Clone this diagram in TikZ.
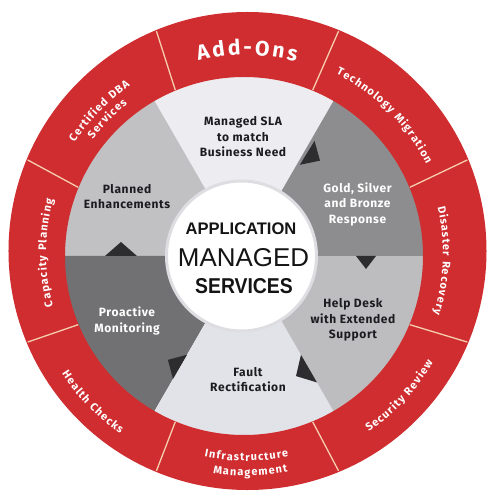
\documentclass[tikz,border=0pt]{standalone}
\usepackage{fontspec}
\setmainfont{Fira Sans}
\usepackage{graphicx}
\usetikzlibrary{decorations.text,calc}
\newfontfamily\secfont[LetterSpace=5]{Fira Sans}
\newfontfamily\ringfont{Fira Sans}
\newfontfamily\ctrfont{Liberation Sans}
\definecolor{ringred}{RGB}{207,45,48}
\definecolor{sepline}{RGB}{246,205,175}
\definecolor{slacol}{RGB}{237,237,241}
\definecolor{goldcol}{RGB}{141,141,143}
\definecolor{helpcol}{RGB}{189,189,191}
\definecolor{faultcol}{RGB}{226,227,233}
\definecolor{procol}{RGB}{113,113,115}
\definecolor{plancol}{RGB}{193,193,195}
\definecolor{tricol}{RGB}{45,45,48}
\definecolor{darktxt}{RGB}{28,28,32}
\definecolor{ctrtxt}{RGB}{20,20,20}
\definecolor{ctredge}{RGB}{222,222,226}
\newcommand\ringfmt{\ringfont\bfseries\fontsize{11}{13}\selectfont\color{white}\kern1.1pt}
\newcommand\addfmt{\ringfont\bfseries\fontsize{21}{23}\selectfont\color{white}\kern2.6pt}
% clockwise arc text (tops outward)
\newcommand\ringcw[4]{\path[shift={(2,2.5)},decorate,decoration={text along path,text align=center,text={|#3|#4}}] ({#1+40}:#2) arc[start angle={#1+40},end angle={#1-40},radius=#2];}
% counter-clockwise arc text (tops inward)
\newcommand\ringccw[4]{\path[shift={(2,2.5)},decorate,decoration={text along path,text align=center,text={|#3|#4}}] ({#1-40}:#2) arc[start angle={#1-40},end angle={#1+40},radius=#2];}
\newcommand\arrowtri[4]{\fill[tricol] ({#1}:{#2-#3/2}) -- ({#1}:{#2+#3/2}) -- ($({#1}:{#2})+({#1-90}:#4)$) -- cycle;}
\begin{document}
\begin{tikzpicture}[x=1pt,y=1pt,
  seclabel/.style={align=center,inner sep=0pt,font=\secfont\bfseries\fontsize{12}{15.5}\selectfont},
  sepstyle/.style={draw=sepline,line width=1.3pt}]
\useasboundingbox (-244,-244) rectangle (256,256);
\fill[white] (-244,-244) rectangle (256,256);
% sectors
\fill[slacol]   (0,0) -- (60:181)  arc[start angle=60,end angle=120,radius=181] -- cycle;
\fill[plancol]  (0,0) -- (120:181) arc[start angle=120,end angle=180,radius=181] -- cycle;
\fill[procol]   (0,0) -- (180:181) arc[start angle=180,end angle=240,radius=181] -- cycle;
\fill[faultcol] (0,0) -- (240:181) arc[start angle=240,end angle=300,radius=181] -- cycle;
\fill[helpcol]  (0,0) -- (300:181) arc[start angle=300,end angle=360,radius=181] -- cycle;
\fill[goldcol]  (0,0) -- (0:181)   arc[start angle=0,end angle=60,radius=181] -- cycle;
% arrow triangles
\arrowtri{58.5}{121}{28}{15}
\arrowtri{0}{122}{20}{13}
\arrowtri{-60}{130}{32}{15}
\arrowtri{-120}{128}{28}{14}
\arrowtri{180}{123}{32}{14}
% centre circle
\fill[white,draw=ctredge,line width=3pt] (-2.5,0) circle[radius=75];
% red ring
\fill[ringred,even odd rule] (3.5,5) circle[radius=239] (0,0) circle[radius=179];
\foreach \a in {22.5,67.5,112.5,157.5,202.5,247.5,292.5,337.5}
  \draw[sepstyle] (\a:179.5) -- ($(3.5,5)+(\a:238)$);
% ring labels
\ringcw{90}{198.5}{\addfmt}{Add-Ons}
\ringcw{45}{201}{\ringfmt}{Technology Migration}
\ringcw{-2}{197}{\ringfmt}{Disaster Recovery}
\ringcw{180}{200}{\ringfmt}{Capacity Planning}
\ringcw{136}{204}{\ringfmt}{Certified DBA}
\ringcw{136}{191}{\ringfmt}{Services}
\ringccw{-43}{216.5}{\ringfmt}{Security Review}
\ringccw{-136}{220}{\ringfmt}{Health Checks}
\ringccw{-90}{207.5}{\ringfmt}{Infrastructure}
\ringccw{-89}{222.5}{\ringfmt}{Management}
% sector labels
\node[seclabel,text=darktxt] (sla) at (-1,119) {Managed SLA\\to match\\Business Need};
\node[seclabel,text=white] (gold) at (113.5,52) {Gold, Silver\\and Bronze\\Response};
\node[seclabel,text=darktxt] (help) at (109,-64) {Help Desk\\with Extended\\Support};
\node[seclabel,text=darktxt] (fault) at (4,-123.5) {Fault\\Rectification};
\node[seclabel,text=white] (proactive) at (-117,-65) {Proactive\\Monitoring};
\node[seclabel,text=darktxt] (planned) at (-117,59.5) {Planned\\Enhancements};
% centre text
\node[inner sep=0pt,text=ctrtxt] (app) at (-3,27) {\resizebox{110.7pt}{11.7pt}{\ctrfont\bfseries APPLICATION}};
\node[inner sep=0pt,text=ctrtxt] (managed) at (-0.5,-2) {\resizebox{131pt}{18pt}{\ctrfont MANAGED}};
\node[inner sep=0pt,text=ctrtxt] (services) at (0,-30) {\resizebox{97.7pt}{15pt}{\ctrfont\bfseries SERVICES}};
\end{tikzpicture}
\end{document}
